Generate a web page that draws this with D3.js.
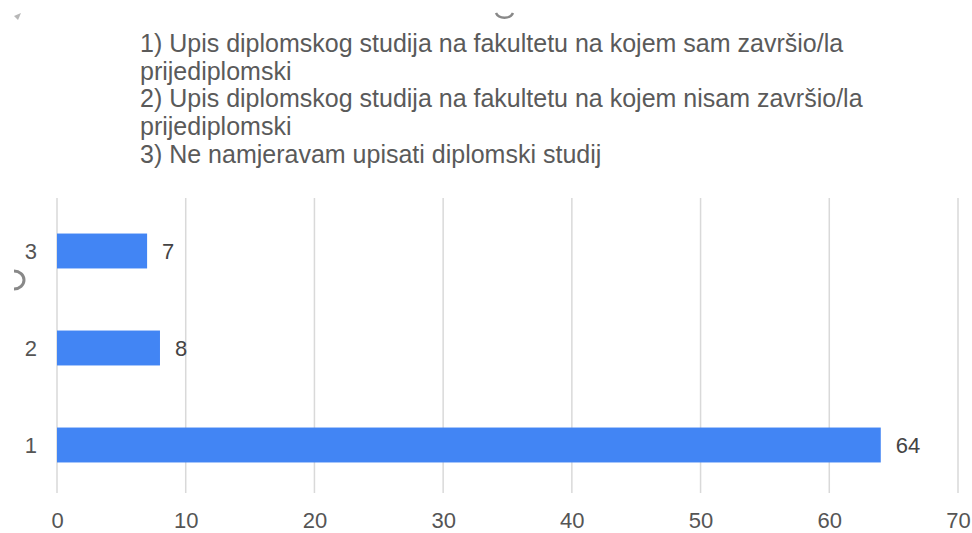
<!DOCTYPE html>
<html>
<head>
<meta charset="utf-8">
<script src="https://cdn.jsdelivr.net/npm/d3@7"></script>
<style>
  body { margin: 0; background: #fff; }
  text { font-family: "Liberation Sans", Arial, sans-serif; }
</style>
</head>
<body>
<div id="chart"></div>
<script>
// Chart data
const categories = ["1", "2", "3"]
const values = [64, 8, 7]
const xTicks = [0, 10, 20, 30, 40, 50, 60, 70]
const legendLines = [
    "1) Upis diplomskog studija na fakultetu na kojem sam završio/la",
    "prijediplomski",
    "2) Upis diplomskog studija na fakultetu na kojem nisam završio/la",
    "prijediplomski",
    "3) Ne namjeravam upisati diplomski studij"
]

const WIDTH = 972
const HEIGHT = 533
const PLOT = {LEFT: 57, RIGHT: 958, TOP: 198, BOTTOM: 493}

let svg = d3.select("#chart").append("svg")
    .attr("width", WIDTH)
    .attr("height", HEIGHT)

// x scale for the counts
let xScale = d3.scaleLinear()
    .domain([0, 70])
    .range([PLOT.LEFT, PLOT.RIGHT])

// y scale for the answers, 3 at the top
let yScale = d3.scaleBand()
    .domain(["3", "2", "1"])
    .range([202.5, 493.5])
    .paddingInner(0.64)
    .paddingOuter(0.32)

// Legend text at the top
svg.append("g")
    .selectAll("text")
    .data(legendLines)
    .join("text")
        .attr("x", 140)
        .attr("y", (d, i) => 52 + i * 27.7)
        .style("font-size", "25px")
        .style("fill", "#5a5a5a")
        .text(d => d)

// Vertical gridlines
svg.append("g")
    .selectAll("line")
    .data(xTicks)
    .join("line")
        .attr("x1", d => xScale(d))
        .attr("x2", d => xScale(d))
        .attr("y1", PLOT.TOP)
        .attr("y2", PLOT.BOTTOM)
        .attr("stroke", "#d9d9d9")
        .attr("stroke-width", 1.5)

// Bars
svg.append("g")
    .selectAll("rect")
    .data(categories)
    .join("rect")
        .attr("x", xScale(0))
        .attr("y", d => yScale(d))
        .attr("width", (d, i) => xScale(values[i]) - xScale(0))
        .attr("height", yScale.bandwidth())
        .style("fill", "#4285f4")

// Value labels
svg.append("g")
    .selectAll("text")
    .data(categories)
    .join("text")
        .attr("x", (d, i) => xScale(values[i]) + 15)
        .attr("y", d => yScale(d) + yScale.bandwidth() / 2)
        .attr("dy", "0.36em")
        .style("font-size", "22px")
        .style("fill", "#444")
        .text((d, i) => values[i])

// x axis tick labels
let xAxis = svg.append("g")
    .attr("transform", "translate(0," + PLOT.BOTTOM + ")")
    .call(d3.axisBottom(xScale).tickValues(xTicks).tickSize(0).tickPadding(0))
xAxis.select(".domain").remove()
xAxis.selectAll("text")
    .attr("y", 35)
    .attr("dy", 0)
    .style("font-family", "'Liberation Sans', Arial, sans-serif")
    .style("font-size", "22px")
    .style("fill", "#555")

// y axis tick labels
let yAxis = svg.append("g")
    .attr("transform", "translate(" + PLOT.LEFT + ",0)")
    .call(d3.axisLeft(yScale).tickSize(0).tickPadding(20))
yAxis.select(".domain").remove()
yAxis.selectAll("text")
    .attr("dy", "0.36em")
    .style("font-family", "'Liberation Sans', Arial, sans-serif")
    .style("font-size", "22px")
    .style("fill", "#555")

// Cropped glyph fragments visible at the edges of the screenshot
svg.append("path")
    .attr("d", "M14,16 L21,13 L18,20 Z")
    .style("fill", "#999")
    .style("opacity", 0.7)
svg.append("path")
    .attr("d", "M496,13 A9,7 0 0 0 513,13")
    .style("fill", "none")
    .style("stroke", "#888")
    .style("stroke-width", 2.5)
svg.append("path")
    .attr("d", "M14,271 A10,9 0 0 1 14,289")
    .style("fill", "none")
    .style("stroke", "#888")
    .style("stroke-width", 3)
</script>
</body>
</html>
